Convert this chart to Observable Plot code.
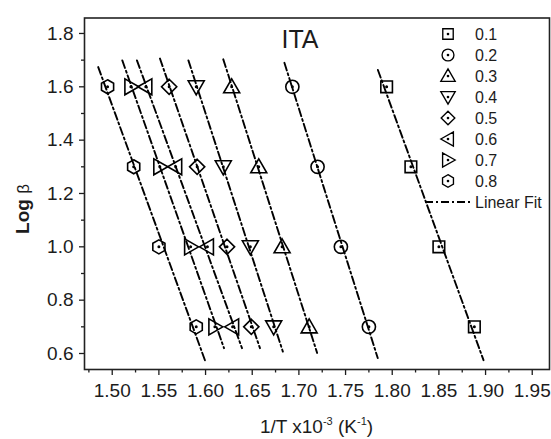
<!DOCTYPE html>
<html><head><meta charset="utf-8">
<script src="https://cdn.jsdelivr.net/npm/d3@7"></script>
<script src="https://cdn.jsdelivr.net/npm/@observablehq/plot@0.6"></script>
<style>
body{margin:0;background:#fff}
#chart svg{display:block}
</style>
</head><body><div id="chart"></div>
<script>
// ---- data ----
const series = ["0.1", "0.2", "0.3", "0.4", "0.5", "0.6", "0.7", "0.8"];
const logBeta = [1.6, 1.3, 1.0, 0.7];
const invT_01 = [1.794, 1.820, 1.850, 1.888];
const invT_02 = [1.693, 1.720, 1.745, 1.775];
const invT_03 = [1.628, 1.657, 1.682, 1.711];
const invT_04 = [1.590, 1.619, 1.648, 1.673];
const invT_05 = [1.561, 1.591, 1.623, 1.649];
const invT_06 = [1.536, 1.568, 1.602, 1.629];
const invT_07 = [1.520, 1.551, 1.584, 1.610];
const invT_08 = [1.495, 1.523, 1.550, 1.590];
// vertical extent of each linear-fit line (Log beta at its two ends)
const fitTop    = [1.663, 1.690, 1.703, 1.699, 1.706, 1.699, 1.699, 1.674];
const fitBottom = [0.575, 0.583, 0.602, 0.607, 0.620, 0.620, 0.620, 0.572];
const xTicks = [1.50, 1.55, 1.60, 1.65, 1.70, 1.75, 1.80, 1.85, 1.90, 1.95];
const xMinorTicks = [1.475, 1.525, 1.575, 1.625, 1.675, 1.725, 1.775, 1.825, 1.875, 1.925];
const yTicks = [0.6, 0.8, 1.0, 1.2, 1.4, 1.6, 1.8];
const yMinorTicks = [0.7, 0.9, 1.1, 1.3, 1.5, 1.7];
const titleText = "ITA";
const fitLabel = "Linear Fit";

const invT = [invT_01, invT_02, invT_03, invT_04, invT_05, invT_06, invT_07, invT_08];

// ---- symbols (hollow, with centre dot) ----
function centreDot(ctx){ ctx.moveTo(0.7,0); ctx.arc(0,0,0.7,0,2*Math.PI); }
function poly(pts){
  return {draw(ctx){
    ctx.moveTo(pts[0][0], pts[0][1]);
    for (let i = 1; i < pts.length; i++) ctx.lineTo(pts[i][0], pts[i][1]);
    ctx.closePath();
    centreDot(ctx);
  }};
}
const symCircle = {draw(ctx){ ctx.moveTo(6.6,0); ctx.arc(0,0,6.6,0,2*Math.PI); centreDot(ctx); }};
const symSquare = poly([[-5.8,-5.8],[5.8,-5.8],[5.8,5.8],[-5.8,5.8]]);
const symUp = poly([[0,-8],[8,6],[-8,6]]);
const symDown = poly([[0,8],[8,-6],[-8,-6]]);
const symDiamond = poly([[0,-7.6],[7.6,0],[0,7.6],[-7.6,0]]);
const symLeft = poly([[-8,0],[6,-8],[6,8]]);
const symRight = poly([[8,0],[-6,-8],[-6,8]]);
const symHex = poly(d3.range(6).map(k => {
  const a = -Math.PI/2 + k*Math.PI/3; return [7*Math.cos(a), 7*Math.sin(a)];
}));
const symbols = [symSquare, symCircle, symUp, symDown, symDiamond, symLeft, symRight, symHex];

// ---- tables ----
const points = [];
series.forEach((s, i) => logBeta.forEach((b, j) => points.push({series: s, idx: i, x: invT[i][j], y: b})));

const fits = [];
series.forEach((s, i) => {
  const xs = invT[i], ys = logBeta;
  const my = d3.mean(ys), mx = d3.mean(xs);
  const slope = d3.sum(ys.map((y, k) => (y - my) * (xs[k] - mx))) / d3.sum(ys.map(y => (y - my) ** 2));
  const xAt = y => mx + slope * (y - my);
  fits.push({series: s, x: xAt(fitTop[i]), y: fitTop[i]});
  fits.push({series: s, x: xAt(fitBottom[i]), y: fitBottom[i]});
});

const dash = "8,3,2,3";
const ink = "#1c1c1c";

const plot = Plot.plot({
  width: 551, height: 439,
  marginLeft: 84, marginRight: 2, marginTop: 17.5, marginBottom: 70,
  x: {domain: [1.4703, 1.9685]},
  y: {domain: [0.54, 1.858]},
  style: {fontFamily: "'Liberation Sans', Arial, sans-serif", fontSize: "19px", color: ink, background: "#fff"},
  marks: [
    Plot.axisX(xTicks, {tickSize: 6, tickPadding: 8, tickFormat: d => d.toFixed(2), fontSize: 19, label: null, strokeWidth: 1.3}),
    Plot.axisX(xMinorTicks, {tickSize: 3.5, text: null, label: null, strokeWidth: 1.3}),
    Plot.axisY(yTicks, {tickSize: 5, tickPadding: 6, tickFormat: d => d.toFixed(1), fontSize: 19, label: null, strokeWidth: 1.3}),
    Plot.axisY(yMinorTicks, {tickSize: 3, text: null, label: null, strokeWidth: 1.3}),
    Plot.line(fits, {x: "x", y: "y", z: "series", stroke: "#000", strokeWidth: 1.9, strokeDasharray: dash}),
    ...symbols.map((sym, i) => Plot.dot(points.filter(p => p.idx === i), {
      x: "x", y: "y", symbol: sym, r: 6, stroke: "#000", strokeWidth: 1.6, fill: "none"
    })),
    Plot.frame({stroke: "#222", strokeWidth: 1.6})
  ]
});

const svg = d3.select(plot);
const font = "'Liberation Sans', Arial, sans-serif";

// title
svg.append("text").attr("x", 300).attr("y", 48).attr("text-anchor", "middle")
  .attr("font-family", font).attr("font-size", 25).attr("fill", ink).text(titleText);

// legend
const lg = svg.append("g").attr("text-anchor", "start");
series.forEach((s, i) => {
  const yy = 34 + 21 * i;
  const p = d3.path(); symbols[i].draw(p, 0);
  lg.append("path").attr("d", p.toString()).attr("transform", `translate(448,${yy}) scale(0.9)`)
    .attr("fill", "none").attr("stroke", "#000").attr("stroke-width", 1.5);
  lg.append("text").attr("x", 475).attr("y", yy).attr("dy", "0.36em").attr("text-anchor", "start")
    .attr("font-family", font).attr("font-size", 16).attr("fill", ink).text(s);
});
const ly = 34 + 21 * 8;
lg.append("line").attr("x1", 425).attr("x2", 473).attr("y1", ly).attr("y2", ly)
  .attr("stroke", "#000").attr("stroke-width", 1.9).attr("stroke-dasharray", dash);
lg.append("text").attr("x", 475).attr("y", ly).attr("dy", "0.36em").attr("text-anchor", "start")
  .attr("font-family", font).attr("font-size", 16).attr("fill", ink).text(fitLabel);

// x label
const xl = svg.append("text").attr("x", 316.5).attr("y", 433).attr("text-anchor", "middle")
  .attr("font-family", font).attr("font-size", 19).attr("fill", ink);
xl.append("tspan").text("1/T x10");
xl.append("tspan").attr("font-size", 11).attr("dy", -8).text("-3");
xl.append("tspan").attr("dy", 8).text(" (K");
xl.append("tspan").attr("font-size", 11).attr("dy", -8).text("-1");
xl.append("tspan").attr("dy", 8).text(")");

// y label
const yl = svg.append("text").attr("transform", "translate(29,209) rotate(-90)").attr("text-anchor", "middle")
  .attr("font-family", font).attr("fill", ink);
yl.append("tspan").attr("font-weight", "bold").attr("font-size", 19).text("Log ");
yl.append("tspan").attr("font-size", 17).text("β");

document.getElementById("chart").appendChild(plot);
</script>
</body></html>
